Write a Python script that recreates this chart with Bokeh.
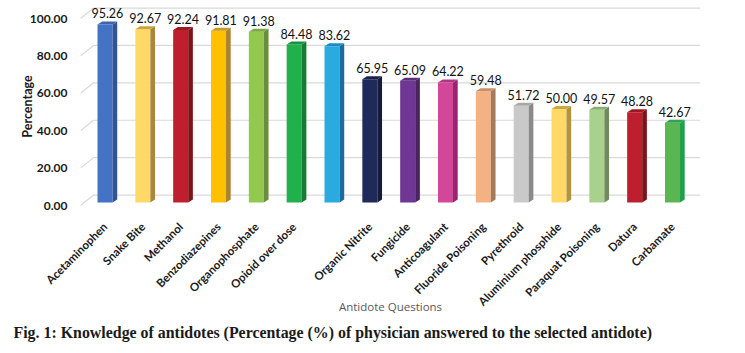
from bokeh.plotting import figure
from bokeh.models import FixedTicker, NumeralTickFormatter, Range1d, Title, ColumnDataSource
from bokeh.core.properties import value
from bokeh.embed import file_html
from bokeh.resources import INLINE
import math

# ---------------- data ----------------
categories = ["Acetaminophen", "Snake Bite", "Methanol", "Benzodiazepines", "Organophosphate",
              "Opioid over dose", "", "Organic Nitrite", "Fungicide", "Anticoagulant",
              "Fluoride Poisoning", "Pyrethroid", "Aluminium phosphide", "Paraquat Poisoning",
              "Datura", "Carbamate"]
percentages = [95.26, 92.67, 92.24, 91.81, 91.38, 84.48, 83.62, 65.95, 65.09, 64.22,
               59.48, 51.72, 50.00, 49.57, 48.28, 42.67]
front_colors = ["#4472C4", "#FFD966", "#BE1E2D", "#FFC000", "#92C84F", "#21B04B", "#29ABE2",
                "#1F2A5B", "#6F3793", "#D3479A", "#F4B183", "#C9C9C9", "#FFD966", "#A9D18E",
                "#BE1E2D", "#5BB553"]
side_colors = ["#2F5597", "#A8893A", "#7F1418", "#A98531", "#6A8E3E", "#177A35", "#1B6E98",
               "#141C3C", "#4A245F", "#9A2370", "#A57A5A", "#8A8A8A", "#B0943F", "#6F8B5D",
               "#7F1418", "#20A04D"]
top_colors = ["#3A64AE", "#C9A33F", "#9A1A22", "#C59A2A", "#7BA844", "#1A9140", "#1B8CC5",
              "#18214A", "#5B2C79", "#B43484", "#C98F68", "#A8A8A8", "#C9A845", "#8AAE74",
              "#9A1A22", "#2BA54F"]
y_ticks = [0, 20, 40, 60, 80, 100]
x_title = "Antidote Questions"
y_title = "Percentage"
caption = "Fig. 1: Knowledge of antidotes (Percentage (%) of physician answered to the selected antidote)"

# ---------------- geometry (style) ----------------
n = len(percentages)
xs = list(range(n))
bw = 0.397        # front face width
ddx = 0.124       # bar depth (x)
ddy = 1.6         # bar depth (y)
off = 1.6         # floor offset of bar front
wall_dy = 5.6     # back wall shift (y)
x_left = -0.648
x_wall = -0.304
x_right = 15.74

p = figure(width=745, height=353, output_backend="svg", toolbar_location=None,
           x_range=Range1d(x_left, x_right), y_range=Range1d(-2.67, 108.56),
           min_border_left=80, min_border_right=45, min_border_top=2, min_border_bottom=143)
p.outline_line_color = None
p.xgrid.visible = False
p.ygrid.visible = False
p.background_fill_color = "white"
p.border_fill_color = "white"

# gridlines with 3D wall slant
gx = [[x_left, x_wall, x_right] for _ in y_ticks]
gy = [[t, t + wall_dy, t + wall_dy] for t in y_ticks]
p.multi_line(gx, gy, line_color="#D9D9D9", line_width=1.2)

# bars
tops = [v + off for v in percentages]
src = ColumnDataSource(dict(x=xs, top=tops, color=front_colors))
p.vbar(x="x", top="top", bottom=off, width=bw, fill_color="color", line_color=None, source=src)

side_xs = [[x + bw / 2, x + bw / 2 + ddx, x + bw / 2 + ddx, x + bw / 2] for x in xs]
side_ys = [[off, off + ddy, t + ddy, t] for t in tops]
p.patches(side_xs, side_ys, fill_color=side_colors, line_color=None)

top_xs = [[x - bw / 2, x + bw / 2, x + bw / 2 + ddx, x - bw / 2 + ddx] for x in xs]
top_ys = [[t, t, t + ddy, t + ddy] for t in tops]
p.patches(top_xs, top_ys, fill_color=top_colors, line_color=None)

# value labels
lab_src = ColumnDataSource(dict(x=[x + ddx / 2 for x in xs], y=[t + ddy for t in tops],
                                text=[f"{v:.2f}" for v in percentages]))
p.text(x="x", y="y", text="text", source=lab_src, text_align="center", text_baseline="bottom",
       y_offset=-3, text_font=value("Lato"), text_font_size="12.5px", text_color="#111111")

# axes
p.yaxis.ticker = FixedTicker(ticks=y_ticks)
p.yaxis.formatter = NumeralTickFormatter(format="0.00")
p.yaxis.axis_line_color = None
p.yaxis.major_tick_line_color = None
p.yaxis.minor_tick_line_color = None
p.yaxis.major_label_standoff = 7
p.yaxis.major_label_text_font = "Lato"
p.yaxis.major_label_text_font_style = "bold"
p.yaxis.major_label_text_font_size = "12px"
p.yaxis.major_label_text_color = "#1a1a1a"
p.yaxis.axis_label = y_title
p.yaxis.axis_label_text_font = "Lato"
p.yaxis.axis_label_text_font_style = "bold"
p.yaxis.axis_label_text_font_size = "12.5px"
p.yaxis.axis_label_text_color = "#1a1a1a"
p.yaxis.axis_label_standoff = -8

p.xaxis.ticker = FixedTicker(ticks=xs)
p.xaxis.major_label_overrides = {i: c for i, c in enumerate(categories)}
p.xaxis.major_label_orientation = math.pi / 4
p.xaxis.axis_line_color = None
p.xaxis.major_tick_line_color = None
p.xaxis.minor_tick_line_color = None
p.xaxis.major_label_standoff = 8
p.xaxis.major_label_text_font = "Lato"
p.xaxis.major_label_text_font_style = "bold"
p.xaxis.major_label_text_font_size = "11.5px"
p.xaxis.major_label_text_color = "#1a1a1a"
p.xaxis.axis_label = x_title
p.xaxis.axis_label_text_font = "Open Sans"
p.xaxis.axis_label_text_font_style = "normal"
p.xaxis.axis_label_text_font_size = "11.5px"
p.xaxis.axis_label_text_color = "#595959"
p.xaxis.axis_label_standoff = -17

p.add_layout(Title(text=caption, align="left", offset=-67, standoff=10,
                   text_font="Liberation Serif", text_font_style="bold",
                   text_font_size="15.9px", text_color="#1a1a1a"), "below")

open("out.html", "w").write(file_html(p, INLINE))
